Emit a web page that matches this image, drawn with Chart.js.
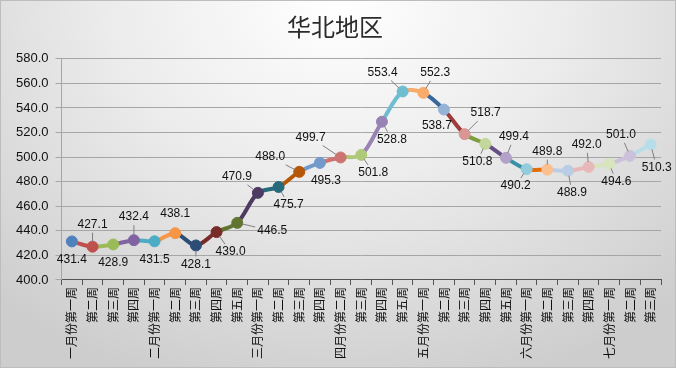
<!DOCTYPE html>
<html>
<head>
<meta charset="utf-8">
<script src="https://cdn.jsdelivr.net/npm/chart.js@4/dist/chart.umd.min.js"></script>
<style>
  html, body { margin: 0; padding: 0; }
  #wrap {
    width: 676px; height: 368px; box-sizing: border-box;
    border: 1px solid #bdbdbd;
    background: radial-gradient(ellipse 75% 110% at 50% 0%, #ffffff 0%, #ececec 45%, #cdcdcd 100%);
  }
</style>
</head>
<body>
<div id="wrap"><canvas id="chart" width="674" height="366"></canvas></div>
<script>
// weeks, Jan - Jul
const weeks = [
  '一月份第一周', '第二周', '第三周', '第四周',
  '二月份第一周', '第二周', '第三周', '第四周', '第五周',
  '三月份第一周', '第二周', '第三周', '第四周',
  '四月份第二周', '第三周', '第四周', '第五周',
  '五月份第一周', '第二周', '第三周', '第四周', '第五周',
  '六月份第一周', '第二周', '第三周', '第四周',
  '七月份第一周', '第二周', '第三周'
];
const prices = [
  431.4, 427.1, 428.9, 432.4,
  431.5, 438.1, 428.1, 439.0, 446.5,
  470.9, 475.7, 488.0, 495.3,
  499.7, 501.8, 528.8, 553.4,
  552.3, 538.7, 518.7, 510.8, 499.4,
  490.2, 489.8, 488.9, 492.0,
  494.6, 501.0, 510.3
];
const yTicks = [400, 420, 440, 460, 480, 500, 520, 540, 560, 580];

// excel "vary colors by point" look
const lineColors = [
  '#4F81BD', '#C0504D', '#9BBB59', '#8064A2', '#4BACC6', '#F79646',
  '#2C4D75', '#772C2A', '#5F7530', '#4D3B62', '#276A7C', '#B65708',
  '#729ACA', '#CD7371', '#AFC97A', '#9983B5', '#6FBDD1', '#F9AB6B',
  '#3A679C', '#9F3B38', '#7F9D40', '#664F86', '#3891A7', '#E46C0A',
  '#B9CDE5', '#E6B9B8', '#D7E4BD', '#CCC1DA', '#B7DEE8'
];
const dotColors = lineColors.slice();
dotColors[18] = '#95B3D7'; dotColors[19] = '#D99694'; dotColors[20] = '#C3D69B';
dotColors[21] = '#B3A2C7'; dotColors[22] = '#93CDDD'; dotColors[23] = '#FAC090';

// label placement relative to each point: dx, dy, leader line
const labelOffsets = [
  [0, 18, 0], [0, -22, 1], [0, 18, 0], [0, -23, 1], [0, 18, 0], [0, -19, 0],
  [0, 19, 1], [14, 20, 1], [35, 8, 1], [-21, -16, 1], [10, 18, 1], [-29, -15, 1],
  [6, 18, 0], [-30, -20, 1], [12, 18, 1], [10, 18, 1], [-20, -19, 1], [12, -20, 1],
  [-7, 16, 0], [21, -21, 1], [-8, 18, 1], [8, -21, 1], [-11, 17, 1], [0, -18, 1],
  [4, 22, 1], [-2, -22, 1], [7, 18, 1], [-9, -21, 1], [6, 23, 1]
];

const FONT = '"Liberation Sans", Arial, sans-serif';

const pointLabels = {
  id: 'pointLabels',
  afterDatasetsDraw(chart) {
    const ctx = chart.ctx;
    const meta = chart.getDatasetMeta(0);
    ctx.save();
    ctx.font = '12px ' + FONT;
    ctx.textAlign = 'center';
    ctx.textBaseline = 'middle';
    meta.data.forEach((pt, i) => {
      const [dx, dy, lead] = labelOffsets[i];
      const text = prices[i].toFixed(1);
      const lx = pt.x + dx, ly = pt.y + dy;
      if (lead) {
        const hw = ctx.measureText(text).width / 2 + 2, hh = 8;
        const vx = pt.x - lx, vy = pt.y - ly;
        const tx = vx ? Math.abs(hw / vx) : Infinity;
        const ty = vy ? Math.abs(hh / vy) : Infinity;
        const t = Math.min(tx, ty);
        const len = Math.hypot(vx, vy);
        const sx = lx + vx * t, sy = ly + vy * t;
        const ex = pt.x - vx / len * 5, ey = pt.y - vy / len * 5;
        if (Math.hypot(ex - sx, ey - sy) > 2) {
          ctx.strokeStyle = '#7f7f7f';
          ctx.lineWidth = 1;
          ctx.beginPath();
          ctx.moveTo(sx, sy);
          ctx.lineTo(ex, ey);
          ctx.stroke();
        }
      }
      ctx.fillStyle = '#111';
      ctx.fillText(text, lx, ly);
    });
    ctx.restore();
  }
};

new Chart(document.getElementById('chart'), {
  type: 'line',
  data: {
    labels: weeks,
    datasets: [{
      data: prices,
      borderWidth: 4,
      tension: 0.3,
      pointRadius: 5.5,
      pointHoverRadius: 5.5,
      pointBorderWidth: 1,
      pointBackgroundColor: dotColors,
      pointBorderColor: dotColors,
      segment: {
        borderColor: c => lineColors[c.p1DataIndex]
      }
    }]
  },
  options: {
    responsive: false,
    animation: false,
    layout: { padding: { left: 8, right: 14, top: 0, bottom: 6 } },
    plugins: {
      legend: { display: false },
      tooltip: { enabled: false },
      title: {
        display: true,
        text: '华北地区',
        color: '#2b2b2b',
        font: { family: '"Noto Sans CJK SC", sans-serif', size: 24, weight: 'normal' },
        padding: { top: 11, bottom: 18 }
      }
    },
    scales: {
      x: {
        offset: true,
        grid: { offset: true, drawOnChartArea: false, tickLength: 5, color: '#555' },
        border: { color: '#555', width: 1 },
        ticks: {
          autoSkip: false, minRotation: 90, maxRotation: 90, padding: 2,
          color: '#111', font: { family: '"Noto Sans CJK SC", sans-serif', size: 12 }
        }
      },
      y: {
        min: 400, max: 580,
        afterBuildTicks: ax => { ax.ticks = yTicks.map(v => ({ value: v })); },
        grid: { color: '#a6a6a6', tickLength: 6 },
        border: { color: '#a6a6a6' },
        ticks: {
          padding: 7, color: '#111', font: { family: FONT, size: 13 },
          callback: v => v.toFixed(1)
        }
      }
    }
  },
  plugins: [pointLabels]
});
</script>
</body>
</html>
